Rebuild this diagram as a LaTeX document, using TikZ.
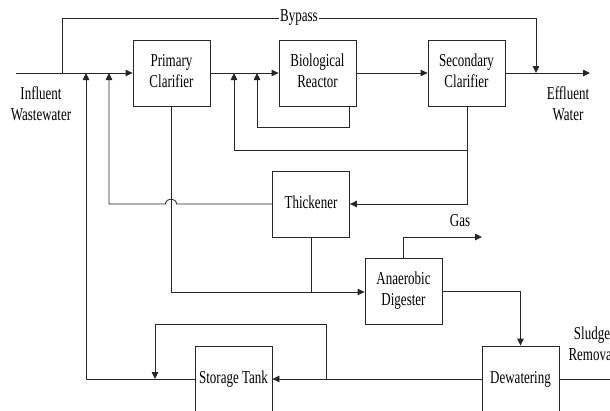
\documentclass[tikz,border=0pt]{standalone}
\usepackage{fontspec}
\setmainfont{Liberation Serif}
\usetikzlibrary{arrows.meta}
\newcommand{\vtxt}[1]{\scalebox{1}[1.4]{\begin{tabular}{@{}c@{}}#1\end{tabular}}}
\begin{document}
\begin{tikzpicture}[x=1pt,y=-1pt,
  line/.style={draw=black!85,line width=0.85pt},
  flow/.style={line,-{Triangle[length=7pt,width=6.5pt]}},
  box/.style={draw=black!85,line width=0.85pt,rectangle,minimum width=77pt,minimum height=66pt,inner sep=1pt,align=center,font=\fontsize{13}{15}\selectfont},
  lbl/.style={align=center,inner sep=1pt,font=\fontsize{13}{15}\selectfont}]
\useasboundingbox (0,0) rectangle (610,410);
\clip (0,0) rectangle (610,410);
\fill[white] (0,0) rectangle (610,410);
% boxes
\node[box] (pc) at (171.5,73) {\vtxt{Primary\\Clarifier}};
\node[box] (br) at (317.5,73) {\vtxt{Biological\\Reactor}};
\node[box] (sc) at (466.5,73) {\vtxt{Secondary\\Clarifier}};
\node[box] (th) at (311,204) {\vtxt{Thickener}};
\node[box] (ad) at (403.5,291) {\vtxt{Anaerobic\\Digester}};
\node[box] (dw) at (520.5,379) {\vtxt{Dewatering}};
\node[box] (st) at (233.5,379) {\vtxt{Storage Tank}};
% labels
\node[lbl] (infl) at (41,106) {\vtxt{Influent\\Wastewater}};
\node[lbl] (effl) at (568,106) {\vtxt{Effluent\\Water}};
\node[lbl] (gas) at (460,222) {\vtxt{Gas}};
\node[lbl] (sludge) at (592,346) {\vtxt{Sludge\\Removal}};
% coordinates
\coordinate (in) at (16,73);
\coordinate (bpA) at (62,73);
\coordinate (bpB) at (536,73);
\coordinate (out) at (590,73);
% main line
\draw[flow] (in) -- (pc.west);
\draw[flow] (pc.east) -- (br.west);
\draw[flow] (br.east) -- (sc.west);
\draw[flow] (sc.east) -- (out);
% bypass
\draw[line] (bpA) -- (62,18) -- (280,18);
\node[lbl,fill=white] (bypass) at (299,17) {\vtxt{Bypass}};
\draw[flow] (bypass.east |- 0,18) -- (536,18) -- (bpB);
% reactor recycle
\draw[flow] (349,106) -- (349,127) -- (257,127) -- (257,73);
% secondary clarifier underflow
\draw[flow] (467,106) -- (467,204) -- (th.east);
\draw[flow] (467,150) -- (234,150) -- (234,73);
% thickener overflow with hop
\draw[flow] (th.west) -- (176.5,204) .. controls (176.5,197.5) and (165.5,197.5) .. (165.5,204) -- (109,204) -- (109,73);
% primary sludge to digester
\draw[flow] (pc.south) -- (171.5,292) -- (ad.west |- 0,292);
\draw[line] (th.south) -- (311,292);
% gas
\draw[flow] (ad.north) -- (403.5,237) -- (482,237);
% digester to dewatering
\draw[flow] (ad.east) -- (520.5,291) -- (dw.north);
% sludge removal
\draw[line] (dw.east) -- (612,379);
% dewatering to storage
\draw[flow] (dw.west) -- (st.east);
\draw[flow] (326,379) -- (326,324) -- (155,324) -- (155,379);
% storage to head
\draw[flow] (st.west) -- (86,379) -- (86,73);
\end{tikzpicture}
\end{document}
